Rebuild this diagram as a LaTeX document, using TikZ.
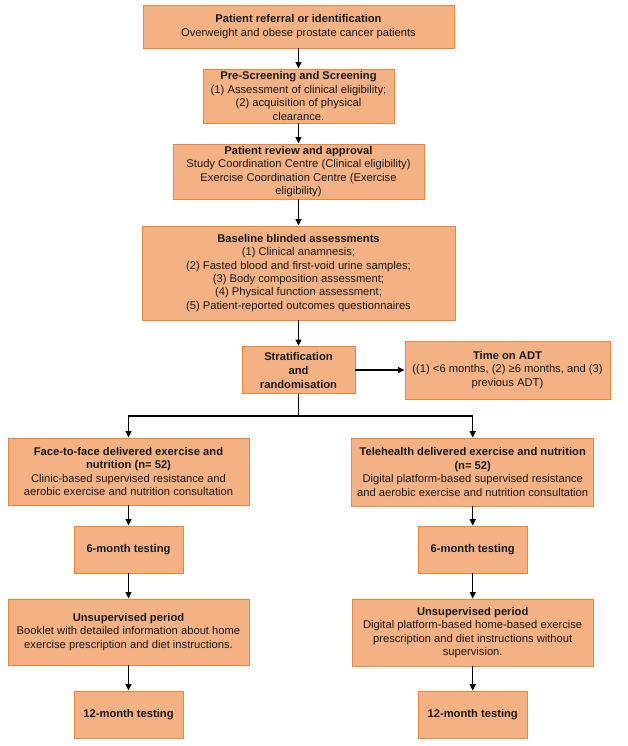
\documentclass[tikz,border=0pt]{standalone}
\usepackage{fontspec}
\setmainfont{Liberation Sans}
\usetikzlibrary{arrows.meta}
\definecolor{boxfill}{RGB}{244,177,131}
\definecolor{boxline}{RGB}{237,132,62}
\definecolor{inktext}{RGB}{25,25,25}
\tikzset{
  stagebox/.style={draw=boxline, fill=boxfill, line width=0.9pt, align=center, inner sep=0pt,
    text=inktext, font=\fontsize{11.2}{13.4}\selectfont},
  flowarrow/.style={-{Triangle[length=6.5pt,width=6pt]}, line width=1.1pt},
}

\begin{document}
\begin{tikzpicture}[x=1pt,y=1pt]
\useasboundingbox (0,0) rectangle (627,-746);
\node[stagebox, minimum width=311pt, minimum height=43pt] (referral) at (298.5,-26.5)
  {\textbf{Patient referral or identification}\\Overweight and obese prostate cancer patients};
\node[stagebox, minimum width=191pt, minimum height=54pt] (screening) at (298.5,-96)
  {\textbf{Pre-Screening and Screening}\\(1) Assessment of clinical eligibility;\\(2) acquisition of physical\\clearance.};
\node[stagebox, minimum width=251pt, minimum height=55pt] (review) at (298.5,-171.5)
  {\textbf{Patient review and approval}\\Study Coordination Centre (Clinical eligibility)\\Exercise Coordination Centre (Exercise\\eligibility)};
\node[stagebox, minimum width=313pt, minimum height=94pt] (baseline) at (298.5,-273)
  {\textbf{Baseline blinded assessments}\\(1) Clinical anamnesis;\\(2) Fasted blood and first-void urine samples;\\(3) Body composition assessment;\\(4) Physical function assessment;\\(5) Patient-reported outcomes questionnaires};
\node[stagebox, minimum width=113pt, minimum height=47pt, font=\fontsize{11.2}{14}\selectfont\bfseries] (strat) at (298.5,-370)
  {Stratification\\and\\randomisation};
\node[stagebox, minimum width=205pt, minimum height=58pt] (adt) at (507.5,-370)
  {\textbf{Time on ADT}\\((1) <6 months, (2) ≥6 months, and (3)\\previous ADT)};
\coordinate (split) at (298.5,-416);

\node[stagebox, minimum width=241pt, minimum height=67pt] (facebox) at (128.5,-471.5)
  {\textbf{Face-to-face delivered exercise and}\\\textbf{nutrition (n= 52)}\\Clinic-based supervised resistance and\\aerobic exercise and nutrition consultation};
\node[stagebox, minimum width=109pt, minimum height=47pt] (sixface) at (128.5,-549.5)
  {\textbf{6-month testing}};
\node[stagebox, minimum width=241pt, minimum height=66pt] (unsupface) at (128.5,-632)
  {\textbf{Unsupervised period}\\Booklet with detailed information about home\\exercise prescription and diet instructions.};
\node[stagebox, minimum width=109pt, minimum height=47pt] (twelveface) at (128.5,-714.5)
  {\textbf{12-month testing}};

\node[stagebox, minimum width=242pt, minimum height=68pt] (telebox) at (472.7,-472)
  {\textbf{Telehealth delivered exercise and nutrition}\\\textbf{(n= 52)}\\Digital platform-based supervised resistance\\and aerobic exercise and nutrition consultation};
\node[stagebox, minimum width=109pt, minimum height=47pt] (sixtele) at (472.7,-549.5)
  {\textbf{6-month testing}};
\node[stagebox, minimum width=241pt, minimum height=67pt] (unsuptele) at (472.7,-632.5)
  {\textbf{Unsupervised period}\\Digital platform-based home-based exercise\\prescription and diet instructions without\\supervision.};
\node[stagebox, minimum width=109pt, minimum height=47pt] (twelvetele) at (472.7,-714.5)
  {\textbf{12-month testing}};

\draw[flowarrow] (referral) -- (screening);
\draw[flowarrow] (screening) -- (review);
\draw[flowarrow] (review) -- (baseline);
\draw[flowarrow] (baseline) -- (strat);
\draw[flowarrow] (strat) -- (adt);
\draw[line width=1.1pt] (strat) -- (split);
\draw[flowarrow] (split) -| (facebox.north);
\draw[flowarrow] (split) -| (telebox.north);
\draw[flowarrow] (facebox) -- (sixface);
\draw[flowarrow] (sixface) -- (unsupface);
\draw[flowarrow] (unsupface) -- (twelveface);
\draw[flowarrow] (telebox) -- (sixtele);
\draw[flowarrow] (sixtele) -- (unsuptele);
\draw[flowarrow] (unsuptele) -- (twelvetele);
\end{tikzpicture}
\end{document}
